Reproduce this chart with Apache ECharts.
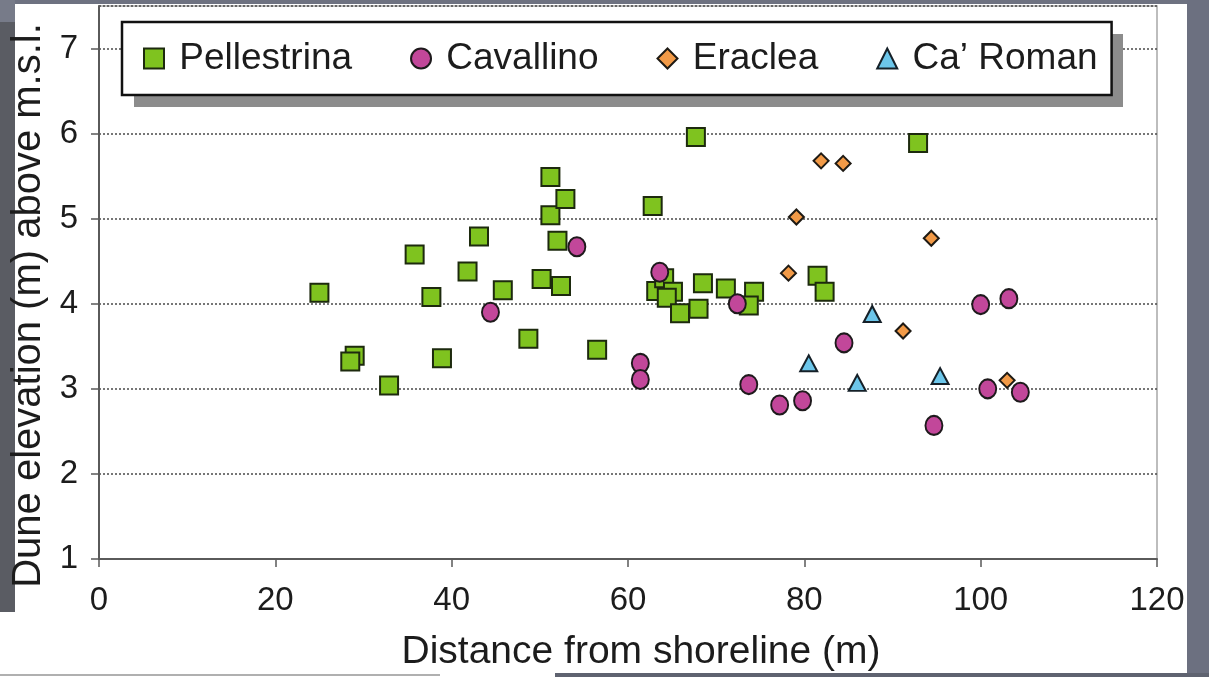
<!DOCTYPE html>
<html>
<head>
<meta charset="utf-8">
<script src="https://cdn.jsdelivr.net/npm/echarts@6/dist/echarts.min.js"></script>
<style>
  html, body { margin: 0; padding: 0; background: #ffffff; }
  #chart { width: 1209px; height: 677px; }
</style>
</head>
<body>
<div id="chart"></div>
<script>
// ---- Data (distance from shoreline m, dune elevation m) ----
const seriesNames = ['Pellestrina', 'Cavallino', 'Eraclea', 'Ca’ Roman'];
const pellestrina = [
  [25.0,4.13],[29.0,3.39],[28.5,3.32],[32.9,3.04],[35.8,4.58],[37.7,4.08],[38.9,3.36],
  [41.8,4.38],[43.1,4.79],[45.8,4.16],[48.7,3.59],[50.2,4.29],[51.2,5.49],[51.2,5.04],
  [52.9,5.23],[52.0,4.74],[52.4,4.21],[56.5,3.46],[62.8,5.15],[67.7,5.96],[92.9,5.89],
  [63.2,4.15],[64.1,4.30],[65.1,4.14],[64.4,4.07],[65.9,3.89],[68.0,3.94],[68.5,4.24],
  [71.1,4.18],[74.3,4.14],[73.7,3.98],[81.5,4.33],[82.3,4.14]
];
const cavallino = [
  [44.4,3.90],[54.2,4.67],[63.6,4.37],[61.4,3.30],[61.4,3.11],[72.4,4.00],[73.7,3.05],
  [77.2,2.81],[79.8,2.86],[84.5,3.54],[94.7,2.57],[100.0,3.99],[103.2,4.06],[100.8,3.00],
  [104.5,2.96]
];
const eraclea = [
  [81.9,5.68],[84.4,5.65],[79.1,5.02],[94.4,4.77],[78.2,4.36],[91.2,3.68],[103.0,3.10]
];
const caRoman = [
  [80.5,3.30],[87.7,3.88],[86.0,3.07],[95.4,3.15]
];
const xTicks = [0, 20, 40, 60, 80, 100, 120];
const yTicks = [1, 2, 3, 4, 5, 6, 7];

const FONT = '"Liberation Sans", Arial, sans-serif';
const TXT = '#1c1c1c';

const chart = echarts.init(document.getElementById('chart'), null, { renderer: 'canvas' });

const option = {
  backgroundColor: '#ffffff',
  animation: false,
  textStyle: { fontFamily: FONT, color: TXT },
  graphic: [
    { type: 'rect', z: -10, silent: true, shape: { x: 0, y: 0, width: 1209, height: 4 }, style: { fill: '#6e7281' } },
    { type: 'rect', z: -10, silent: true, shape: { x: 0, y: 0, width: 15, height: 22 }, style: { fill: '#777b89' } },
    { type: 'rect', z: -10, silent: true, shape: { x: 0, y: 22, width: 15, height: 590 }, style: { fill: '#5a5c63' } },
    { type: 'rect', z: -10, silent: true, shape: { x: 1187, y: 0, width: 22, height: 677 }, style: { fill: '#6c7080' } },
    { type: 'rect', z: -10, silent: true, shape: { x: 555, y: 673, width: 654, height: 4 }, style: { fill: '#5f6370' } },
    { type: 'rect', z: -10, silent: true, shape: { x: 0, y: 674, width: 440, height: 2 }, style: { fill: '#b0b0b0' } },
    // legend drop shadow
    { type: 'rect', z: 3, silent: true, shape: { x: 134, y: 34, width: 989, height: 73 }, style: { fill: '#8c8c8c' } }
  ],
  grid: {
    left: 99, right: 52, top: 6, bottom: 115,
    show: true, borderColor: '#a8a8a8', borderWidth: 1.5, backgroundColor: 'transparent'
  },
  legend: {
    left: 122, top: 22,
    orient: 'horizontal',
    padding: [16, 14, 16, 21],
    itemGap: 58,
    itemWidth: 20, itemHeight: 20,
    backgroundColor: '#ffffff',
    borderColor: '#111111', borderWidth: 2.5,
    z: 4,
    formatter: n => ' ' + n,
    textStyle: { fontFamily: FONT, fontSize: 37, color: TXT, lineHeight: 41 },
    data: seriesNames
  },
  xAxis: {
    type: 'value', min: 0, max: 120, interval: 20,
    name: 'Distance from shoreline (m)',
    nameLocation: 'middle', nameGap: 74,
    nameTextStyle: { fontFamily: FONT, fontSize: 39, color: TXT, padding: [0, 0, 0, 26] },
    axisLine: { show: true, onZero: false, lineStyle: { color: '#5a5a5a', width: 2 } },
    axisTick: { show: true, inside: false, length: 8, lineStyle: { color: '#5a5a5a', width: 1.5 } },
    axisLabel: { fontFamily: FONT, fontSize: 33, color: TXT, margin: 25,
      formatter: v => xTicks.includes(v) ? String(v) : '' },
    splitLine: { show: false }
  },
  yAxis: {
    type: 'value', min: 1, max: 7.5, interval: 1,
    name: 'Dune elevation (m) above m.s.l.',
    nameLocation: 'middle', nameGap: 44, nameRotate: 90,
    nameTextStyle: { fontFamily: FONT, fontSize: 40, color: TXT, padding: [0, 46, 0, 0] },
    axisLine: { show: true, onZero: false, lineStyle: { color: '#5a5a5a', width: 2 } },
    axisTick: { show: true, inside: false, length: 8, lineStyle: { color: '#5a5a5a', width: 1.5 } },
    axisLabel: { fontFamily: FONT, fontSize: 33, color: TXT, margin: 21, showMaxLabel: false,
      formatter: v => yTicks.includes(v) ? String(v) : '' },
    splitLine: { show: true, lineStyle: { color: '#4a4a4a', width: 1.5, type: [2, 2] } }
  },
  series: [
    {
      name: seriesNames[0], type: 'scatter', data: pellestrina,
      symbol: 'rect', symbolSize: 18,
      itemStyle: { color: '#7fc31f', borderColor: '#1d2a0e', borderWidth: 2, opacity: 1 }
    },
    {
      name: seriesNames[1], type: 'scatter', data: cavallino,
      symbol: 'circle', symbolSize: [17, 19],
      itemStyle: { color: '#c2479a', borderColor: '#1e1a1c', borderWidth: 2, opacity: 1 }
    },
    {
      name: seriesNames[2], type: 'scatter', data: eraclea,
      symbol: 'diamond', symbolSize: 15,
      itemStyle: { color: '#f29a47', borderColor: '#1e1a14', borderWidth: 2, opacity: 1 }
    },
    {
      name: seriesNames[3], type: 'scatter', data: caRoman,
      symbol: 'triangle', symbolSize: [17, 16],
      itemStyle: { color: '#6cc6ea', borderColor: '#152028', borderWidth: 2, opacity: 1 }
    }
  ]
};

chart.setOption(option);
</script>
</body>
</html>
